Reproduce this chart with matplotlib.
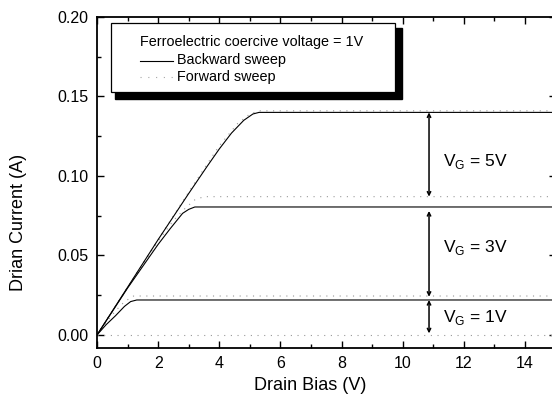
import matplotlib.pyplot as plt
from matplotlib.patches import Rectangle
from matplotlib.ticker import MultipleLocator

plt.rcParams['font.family'] = ['Liberation Sans', 'DejaVu Sans']
plt.rcParams['mathtext.fontset'] = 'custom'
plt.rcParams['mathtext.rm'] = 'Liberation Sans'

# backward sweep (solid)
vd_b1 = [0, 0.3, 0.6, 0.9, 1.1, 1.3, 15]
id_b1 = [0, 0.0065, 0.012, 0.018, 0.021, 0.022, 0.022]
vd_b3 = [0, 1, 1.6, 2.0, 2.4, 2.8, 3.0, 3.2, 15]
id_b3 = [0, 0.0295, 0.046, 0.057, 0.067, 0.0765, 0.079, 0.0805, 0.0805]
vd_b5 = [0, 1, 2, 3, 3.6, 4.0, 4.4, 4.8, 5.1, 5.3, 15]
id_b5 = [0, 0.030, 0.060, 0.089, 0.106, 0.117, 0.127, 0.135, 0.139, 0.140, 0.140]

# forward sweep (dotted)
vd_f0 = [0, 15]
id_f0 = [0, 0]
vd_f1 = [0, 0.3, 0.6, 0.9, 1.2, 15]
id_f1 = [0, 0.008, 0.015, 0.021, 0.0245, 0.0245]
vd_f3 = [0, 1, 2, 2.5, 2.9, 3.2, 3.5, 15]
id_f3 = [0, 0.0297, 0.059, 0.072, 0.080, 0.085, 0.087, 0.087]
vd_f5 = [0, 1, 2, 3, 4, 4.6, 5.0, 5.3, 15]
id_f5 = [0, 0.0300, 0.060, 0.090, 0.119, 0.133, 0.139, 0.141, 0.141]

# gate voltage markers
vg_labels = ['5V', '3V', '1V']
arrow_x = 10.86
arrow_lo = [0.087, 0.024, 0.001]
arrow_hi = [0.140, 0.078, 0.022]
label_y = [0.109, 0.055, 0.011]

fig = plt.figure(figsize=(5.52, 4.05), dpi=100)
W, H = 552.0, 405.0
ax = fig.add_axes([97 / W, 57 / H, (555.6 - 97) / W, 331 / H])

for x, y in [(vd_f0, id_f0), (vd_f1, id_f1), (vd_f3, id_f3), (vd_f5, id_f5)]:
    ax.plot(x, y, color='0.6', lw=0.8, linestyle=(0, (1, 5)))
for x, y in [(vd_b1, id_b1), (vd_b3, id_b3), (vd_b5, id_b5)]:
    ax.plot(x, y, color='black', lw=0.8)

for lab, lo, hi, ty in zip(vg_labels, arrow_lo, arrow_hi, label_y):
    ax.annotate('', xy=(arrow_x, lo), xytext=(arrow_x, hi),
                arrowprops=dict(arrowstyle='<->', color='black', lw=1.1,
                                shrinkA=0, shrinkB=0, mutation_scale=6))
    ax.text(arrow_x + 0.45, ty, r'V$_\mathregular{G}$ = ' + lab, fontsize=12.5,
            va='center', ha='left')

ax.set_xlim(0, 15)
ax.set_ylim(-0.0082, 0.20)
ax.xaxis.set_major_locator(MultipleLocator(2))
ax.xaxis.set_minor_locator(MultipleLocator(1))
ax.yaxis.set_major_locator(MultipleLocator(0.05))
ax.yaxis.set_minor_locator(MultipleLocator(0.025))
ax.tick_params(which='both', direction='in', top=True, right=True, labelsize=11.5)
ax.tick_params(which='major', length=5, width=1, pad=6)
ax.tick_params(which='minor', length=3, width=1)
ax.set_xticks([0, 2, 4, 6, 8, 10, 12, 14])
ax.set_yticks([0, 0.05, 0.10, 0.15, 0.20])
ax.set_yticklabels(['0.00', '0.05', '0.10', '0.15', '0.20'])
for s in ax.spines.values():
    s.set_linewidth(1.3)

ax.set_xlabel('Drain Bias (V)', fontsize=13)
ax.set_ylabel('Drian Current (A)', fontsize=13)
ax.xaxis.set_label_coords((310 - 97) / 458.6, -(377 - 348) / 331.0)
ax.yaxis.set_label_coords(-(97 - 27) / 458.6, (348 - 222) / 331.0)

# legend box with drop shadow (figure pixel coords)
def fx(px):
    return px / W

def fy(py):
    return 1 - py / H

fig.patches.append(Rectangle((fx(115), fy(99)), fx(402) - fx(115), fy(28) - fy(99),
                             transform=fig.transFigure, facecolor='black',
                             edgecolor='black', zorder=5))
fig.patches.append(Rectangle((fx(111), fy(92)), fx(395) - fx(111), fy(23) - fy(92),
                             transform=fig.transFigure, facecolor='white',
                             edgecolor='black', lw=0.9, zorder=6))
fig.text(fx(140), fy(42), 'Ferroelectric coercive voltage = 1V', fontsize=10.4,
         va='center', zorder=7)
fig.lines.append(plt.Line2D([fx(140), fx(173)], [fy(61), fy(61)],
                            transform=fig.transFigure, color='black', lw=0.8, zorder=7))
fig.text(fx(177), fy(60), 'Backward sweep', fontsize=10.4, va='center', zorder=7)
fig.lines.append(plt.Line2D([fx(140), fx(173)], [fy(77), fy(77)],
                            transform=fig.transFigure, color='0.65', lw=0.8,
                            linestyle=(0, (1, 6)), zorder=7))
fig.text(fx(177), fy(77), 'Forward sweep', fontsize=10.4, va='center', zorder=7)

fig.savefig('out.png', dpi=100)
